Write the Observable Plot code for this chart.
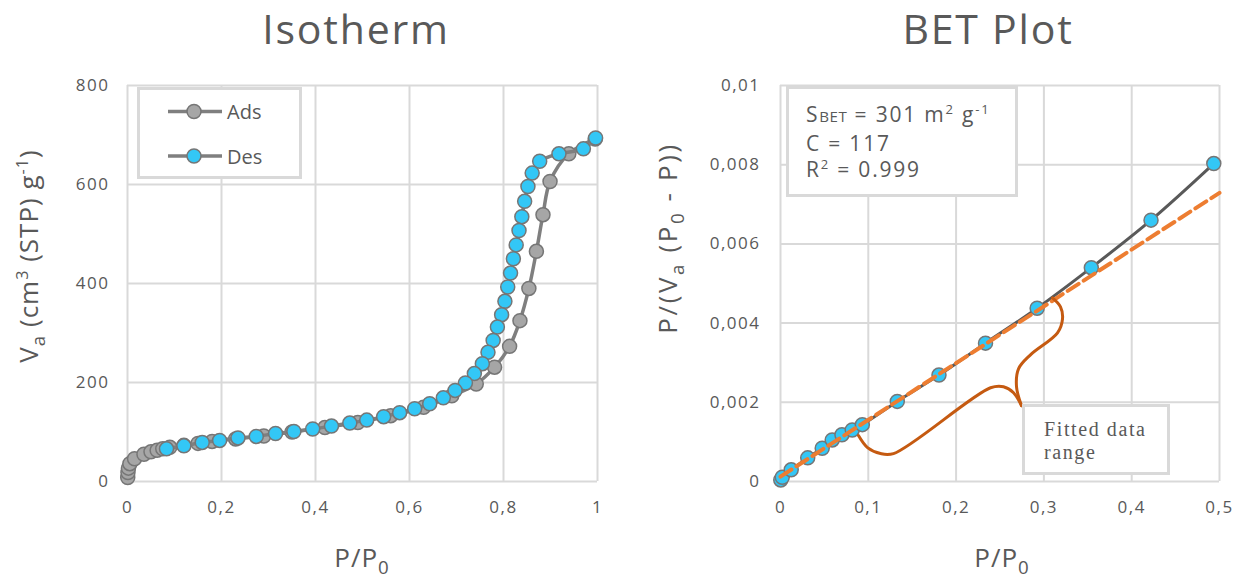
<!DOCTYPE html>
<html>
<head>
<meta charset="utf-8">
<script src="https://cdn.jsdelivr.net/npm/d3@7"></script>
<script src="https://cdn.jsdelivr.net/npm/@observablehq/plot@0.6"></script>
<style>
  html, body { margin: 0; padding: 0; background: #fff; }
  #root { position: relative; width: 1244px; height: 579px; overflow: hidden; font-family: "Open Sans", sans-serif; color: #595959; }
  .abs { position: absolute; white-space: nowrap; }
  .title { font-size: 41px; line-height: normal; letter-spacing: 1.8px; transform: translateX(-50%); }
  .xlab { font-size: 26px; line-height: 30px; letter-spacing: 1px; transform: translateX(-50%); }
  .ylab { font-size: 26px; line-height: 30px; transform: translate(-50%, -50%) rotate(-90deg); }
  sub { font-size: 0.72em; vertical-align: -0.35em; line-height: 0; }
  sup { font-size: 0.62em; vertical-align: 0.6em; line-height: 0; }
  .box { background: #fff; border: 3px solid #d9d9d9; box-sizing: border-box; }
  #stats { font-size: 21px; line-height: 26.7px; letter-spacing: 1.8px; padding: 12px 0 0 17px; }
  #stats .sb { font-size: 0.72em; letter-spacing: 0.5px; }
  #fitted { font-family: "Liberation Serif", "DejaVu Serif", serif; font-size: 20px; line-height: 23px; letter-spacing: 1.6px; padding: 11px 0 0 19px; }
  .plotwrap { position: absolute; top: 59px; }
</style>
</head>
<body>
<div id="root">
  <div class="abs title" style="left:356px; top:0px;">Isotherm</div>
  <div class="abs title" style="left:988px; top:0px;">BET Plot</div>

  <div class="abs ylab" style="left:28px; top:256px; letter-spacing:1px;">V<sub>a</sub> (cm<sup>3</sup> (STP) g<sup>-1</sup>)</div>
  <div class="abs ylab" style="left:667px; top:238px; letter-spacing:2.6px;">P/(V<sub>a</sub> (P<sub>0</sub> - P))</div>

  <div class="abs xlab" style="left:362px; top:542px;">P/P<sub>0</sub></div>
  <div class="abs xlab" style="left:1002px; top:542px;">P/P<sub>0</sub></div>

  <div id="leftplot" class="plotwrap" style="left:0px;"></div>
  <div id="rightplot" class="plotwrap" style="left:622px;"></div>

  <div id="legend" class="abs box" style="left:137px; top:87px; width:165px; height:92px;">
    <svg width="165" height="92" style="position:absolute; left:-3px; top:-3px;">
      <line x1="31" y1="24.5" x2="85" y2="24.5" stroke="#7f7f7f" stroke-width="3.5"/>
      <circle cx="57" cy="24.5" r="7" fill="#a6a6a6" stroke="#767676" stroke-width="1.5"/>
      <text x="90" y="32" fill="#595959" font-size="20" font-family="Open Sans">Ads</text>
      <line x1="31" y1="69" x2="85" y2="69" stroke="#7f7f7f" stroke-width="3.5"/>
      <circle cx="57" cy="69" r="7" fill="#33c7f6" stroke="#767676" stroke-width="1.5"/>
      <text x="90" y="76.5" fill="#595959" font-size="20" font-family="Open Sans">Des</text>
    </svg>
  </div>

  <div id="stats" class="abs box" style="left:786px; top:86px; width:232px; height:111px;">
    S<span class="sb">BET</span> = 301 m<sup>2</sup> g<sup>-1</sup><br>
    C = 117<br>
    R<sup>2</sup> = 0.999
  </div>

  <div id="fitted" class="abs box" style="left:1022px; top:404px; width:148px; height:71px;">
    Fitted data<br>range
  </div>
</div>

<script>
// ---------- Isotherm data ----------
const adsP = [0.0005, 0.001, 0.002, 0.005, 0.015, 0.035, 0.05, 0.063, 0.075, 0.09, 0.12, 0.15, 0.18, 0.23, 0.29, 0.35, 0.42, 0.49, 0.56, 0.63, 0.69, 0.742, 0.781, 0.813, 0.835, 0.854, 0.87, 0.884, 0.899, 0.939, 0.995];
const adsV = [8, 18, 27, 36, 46, 55, 60, 63, 66, 69, 73, 77, 81, 86, 92, 100, 109, 119, 133, 150, 173, 197, 231, 273, 325, 390, 465, 539, 606, 662, 692];

const desP = [0.996, 0.97, 0.918, 0.877, 0.861, 0.852, 0.845, 0.839, 0.833, 0.827, 0.821, 0.815, 0.809, 0.803, 0.796, 0.787, 0.778, 0.767, 0.755, 0.738, 0.719, 0.697, 0.672, 0.643, 0.611, 0.579, 0.545, 0.509, 0.473, 0.434, 0.394, 0.354, 0.315, 0.274, 0.235, 0.196, 0.159, 0.12, 0.083];
const desV = [694, 672, 662, 647, 623, 596, 566, 535, 507, 478, 450, 421, 393, 364, 337, 312, 285, 261, 238, 218, 199, 184, 169, 157, 147, 139, 131, 124, 118, 112, 106, 101, 97, 91, 88, 83, 79, 72, 66];

// ---------- BET data ----------
const betP = [0.0003, 0.002, 0.0122, 0.031, 0.0475, 0.0589, 0.070, 0.0817, 0.0932, 0.133, 0.1805, 0.2335, 0.2923, 0.354, 0.422, 0.4935];
const betV = [0.00004, 0.000108, 0.000295, 0.000597, 0.00084, 0.00105, 0.00118, 0.0013, 0.001436, 0.002023, 0.002687, 0.003494, 0.004375, 0.0054, 0.0066, 0.008028];

// linear BET fit (dashed line)
const fitP = [0, 0.5];
const fitV = [0.000124, 0.00729];

// curly brace annotation (data coordinates)
const braceUpperP = [0.3098, 0.3189, 0.3212, 0.3155, 0.2847, 0.2711, 0.2688, 0.2745];
const braceUpperV = [0.004635, 0.004408, 0.004106, 0.003753, 0.003199, 0.002846, 0.002393, 0.001914];
const braceLowerP = [0.2745, 0.2654, 0.2540, 0.2392, 0.1287, 0.1139, 0.0991, 0.0888];
const braceLowerV = [0.001914, 0.002242, 0.002393, 0.002368, 0.000705, 0.000705, 0.000856, 0.001159];

// ---------- ticks ----------
const isoXTicks = [0, 0.2, 0.4, 0.6, 0.8, 1];
const isoXLabels = ["0", "0,2", "0,4", "0,6", "0,8", "1"];
const isoYTicks = [0, 200, 400, 600, 800];
const isoYLabels = ["0", "200", "400", "600", "800"];
const betXTicks = [0, 0.1, 0.2, 0.3, 0.4, 0.5];
const betXLabels = ["0", "0,1", "0,2", "0,3", "0,4", "0,5"];
const betYTicks = [0, 0.002, 0.004, 0.006, 0.008, 0.01];
const betYLabels = ["0", "0,002", "0,004", "0,006", "0,008", "0,01"];

const zip = (xs, ys) => xs.map((x, i) => ({x, y: ys[i]}));
const lab = (ticks, labels) => d => labels[ticks.indexOf(d)];

const ads = zip(adsP, adsV);
const des = zip(desP, desV);
const bet = zip(betP, betV);
const fit = zip(fitP, fitV);
const braceA = zip(braceUpperP, braceUpperV);
const braceB = zip(braceLowerP, braceLowerV);

const GRID = "#d9d9d9";
const BLUE = "#33c7f6";
const style = {fontFamily: "'Open Sans', sans-serif", fontSize: "17px", color: "#595959", background: "transparent", overflow: "visible", letterSpacing: "1.5px"};

const left = Plot.plot({
  width: 622, height: 520,
  marginLeft: 127, marginRight: 25, marginTop: 26, marginBottom: 98,
  x: {domain: [0, 1]},
  y: {domain: [0, 800]},
  style,
  marks: [
    Plot.gridX(isoXTicks, {stroke: GRID, strokeOpacity: 1, strokeWidth: 2}),
    Plot.gridY(isoYTicks, {stroke: GRID, strokeOpacity: 1, strokeWidth: 2}),
    Plot.axisX(isoXTicks, {tickSize: 0, tickPadding: 19, tickFormat: lab(isoXTicks, isoXLabels), label: null}),
    Plot.axisY(isoYTicks, {tickSize: 0, tickPadding: 18, tickFormat: lab(isoYTicks, isoYLabels), label: null}),
    Plot.line(ads, {x: "x", y: "y", stroke: "#7f7f7f", strokeWidth: 3.5, curve: "catmull-rom"}),
    Plot.dot(ads, {x: "x", y: "y", r: 7, fill: "#a6a6a6", stroke: "#767676", strokeWidth: 1.5}),
    Plot.line(des, {x: "x", y: "y", stroke: "#7f7f7f", strokeWidth: 3.5, curve: "catmull-rom"}),
    Plot.dot(des, {x: "x", y: "y", r: 7, fill: BLUE, stroke: "#767676", strokeWidth: 1.5})
  ]
});
document.getElementById("leftplot").appendChild(left);

const right = Plot.plot({
  width: 622, height: 520,
  marginLeft: 158, marginRight: 25, marginTop: 26, marginBottom: 98,
  x: {domain: [0, 0.5]},
  y: {domain: [0, 0.01]},
  style,
  marks: [
    Plot.gridX(betXTicks, {stroke: GRID, strokeOpacity: 1, strokeWidth: 2}),
    Plot.gridY(betYTicks, {stroke: GRID, strokeOpacity: 1, strokeWidth: 2}),
    Plot.axisX(betXTicks, {tickSize: 0, tickPadding: 19, tickFormat: lab(betXTicks, betXLabels), label: null}),
    Plot.axisY(betYTicks, {tickSize: 0, tickPadding: 20, tickFormat: lab(betYTicks, betYLabels), label: null}),
    Plot.line(bet, {x: "x", y: "y", stroke: "#595959", strokeWidth: 3, curve: "catmull-rom"}),
    Plot.dot(bet, {x: "x", y: "y", r: 7, fill: BLUE, stroke: "#767676", strokeWidth: 1.5}),
    Plot.line(fit, {x: "x", y: "y", stroke: "#ed7d31", strokeWidth: 4, strokeDasharray: "13 6"}),
    Plot.line(braceA, {x: "x", y: "y", stroke: "#c55a11", strokeWidth: 3, curve: "catmull-rom"}),
    Plot.line(braceB, {x: "x", y: "y", stroke: "#c55a11", strokeWidth: 3, curve: "catmull-rom"})
  ]
});
document.getElementById("rightplot").appendChild(right);
</script>
</body>
</html>
